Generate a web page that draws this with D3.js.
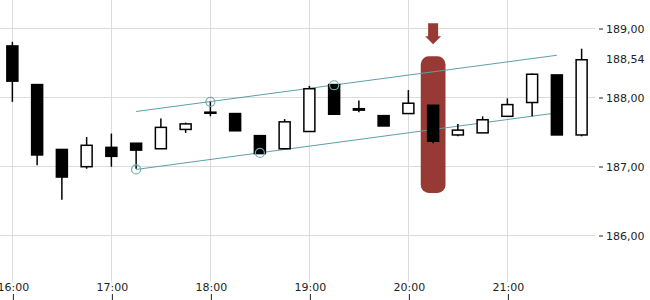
<!DOCTYPE html>
<html>
<head>
<meta charset="utf-8">
<script src="https://cdn.jsdelivr.net/npm/d3@7"></script>
<style>
  body { margin: 0; background: #fff; }
  text { font-family: "DejaVu Sans", sans-serif; font-size: 11px; fill: #222; }
</style>
</head>
<body>
<div id="chart"></div>
<script>
// 15 minute candles, 16:00 - 21:45
var times = ["16:00", "16:15", "16:30", "16:45", "17:00", "17:15", "17:30", "17:45",
             "18:00", "18:15", "18:30", "18:45", "19:00", "19:15", "19:30", "19:45",
             "20:00", "20:15", "20:30", "20:45", "21:00", "21:15", "21:30", "21:45"];
var open  = [188.74, 188.18, 187.24, 186.99, 187.27, 187.33, 187.25, 187.53,
             187.78, 187.76, 187.44, 187.25, 187.50, 188.18, 187.83, 187.73,
             187.76, 187.88, 187.45, 187.48, 187.72, 187.92, 188.32, 187.45];
var high  = [188.80, 188.19, 187.24, 187.42, 187.47, 187.33, 187.69, 187.63,
             187.93, 187.76, 187.44, 187.68, 188.16, 188.18, 187.95, 187.73,
             188.10, 187.88, 187.61, 187.72, 187.98, 188.34, 188.32, 188.70];
var low   = [187.93, 187.01, 186.51, 186.96, 186.99, 186.96, 187.25, 187.48,
             187.72, 187.51, 187.18, 187.25, 187.50, 187.75, 187.78, 187.58,
             187.76, 187.33, 187.43, 187.48, 187.72, 187.72, 187.45, 187.43];
var close = [188.23, 187.16, 186.84, 187.30, 187.14, 187.23, 187.56, 187.61,
             187.765, 187.51, 187.18, 187.64, 188.12, 187.75, 187.81, 187.58,
             187.91, 187.36, 187.52, 187.67, 187.89, 188.33, 187.45, 188.54];

var xTicks = ["16:00", "17:00", "18:00", "19:00", "20:00", "21:00"];
var yTicks = [186, 187, 188, 189];

// trend channel (start / end)
var channelTimes = ["17:15", "21:30"];
var upperLine = [187.79, 188.605];
var lowerLine = [186.95, 187.77];

// touch points on the channel
var anchorTimes  = ["17:15", "18:00", "18:30", "19:15"];
var anchorPrices = [186.95, 187.93, 187.19, 188.17];

// highlighted candle
var markTime = "20:15";
var markRange = [186.61, 188.59];

var width = 650, height = 300;
var parseT = d3.timeParse("%H:%M");

var x = d3.scaleTime()
    .domain([d3.timeParse("%H:%M:%S")("15:52:30"), d3.timeParse("%H:%M:%S")("21:52:30")])
    .range([0, 594]);
var y = d3.scaleLinear()
    .domain([186, 189])
    .range([235, 28]);

var locale = d3.formatLocale({ decimal: ",", thousands: ".", grouping: [3], currency: ["", "€"] });
var fmt = locale.format(".2f");

var svg = d3.select("#chart").append("svg")
    .attr("width", width)
    .attr("height", height);

// grid
svg.append("g").selectAll("line")
    .data(yTicks).enter().append("line")
    .attr("x1", 0).attr("x2", 595)
    .attr("y1", function(d) { return y(d) + 0.5; })
    .attr("y2", function(d) { return y(d) + 0.5; })
    .attr("stroke", "#dcdcdc");
svg.append("g").selectAll("line")
    .data(xTicks).enter().append("line")
    .attr("x1", function(d) { return Math.round(x(parseT(d))) + 0.5; })
    .attr("x2", function(d) { return Math.round(x(parseT(d))) + 0.5; })
    .attr("y1", 0).attr("y2", 282)
    .attr("stroke", "#dcdcdc");

// axes
var yAxis = svg.append("g")
    .attr("transform", "translate(599,0.5)")
    .call(d3.axisRight(y).tickValues(yTicks).tickSize(4).tickPadding(3).tickFormat(fmt));
yAxis.select(".domain").remove();
yAxis.selectAll("line").attr("stroke", "#222");

var xAxis = svg.append("g")
    .attr("transform", "translate(0.5,300)")
    .call(d3.axisTop(x).tickValues(xTicks.map(parseT)).tickSize(6).tickPadding(3)
        .tickFormat(d3.timeFormat("%H:%M")));
xAxis.select(".domain").remove();
xAxis.selectAll("line").attr("stroke", "#222");

// last price label
svg.append("text")
    .attr("x", 606)
    .attr("y", y(close[close.length - 1]))
    .attr("dy", "0.32em")
    .text(fmt(close[close.length - 1]));

// highlight bar + arrow
var mx = x(parseT(markTime));
var step = x(parseT("16:15")) - x(parseT("16:00"));
svg.append("rect")
    .attr("x", mx - step / 2)
    .attr("y", y(markRange[1]))
    .attr("width", step)
    .attr("height", y(markRange[0]) - y(markRange[1]))
    .attr("rx", 8)
    .attr("fill", "#983a34");
var tipY = y(markRange[1]) - 12;
svg.append("path")
    .attr("d", "M" + (mx - 5) + "," + (tipY - 21) + "H" + (mx + 5) + "V" + (tipY - 8) +
        "H" + (mx + 8) + "L" + mx + "," + tipY + "L" + (mx - 8) + "," + (tipY - 8) +
        "H" + (mx - 5) + "Z")
    .attr("fill", "#983a34");

// channel lines
var teal = "#5e9fa5";
[upperLine, lowerLine].forEach(function(l) {
    svg.append("line")
        .attr("x1", x(parseT(channelTimes[0])))
        .attr("y1", y(l[0]))
        .attr("x2", x(parseT(channelTimes[1])))
        .attr("y2", y(l[1]))
        .attr("stroke", teal)
        .attr("stroke-width", 1);
});

// candles
var candles = times.map(function(t, i) {
    return { t: parseT(t), o: open[i], h: high[i], l: low[i], c: close[i] };
});
var bodyW = 11;

var g = svg.append("g");
g.selectAll(".wick")
    .data(candles).enter().append("line")
    .attr("class", "wick")
    .attr("x1", function(d) { return x(d.t); })
    .attr("x2", function(d) { return x(d.t); })
    .attr("y1", function(d) { return y(d.h); })
    .attr("y2", function(d) { return y(d.l); })
    .attr("stroke", "#000")
    .attr("stroke-width", 1.5);

g.selectAll(".body")
    .data(candles).enter().append("rect")
    .attr("class", "body")
    .attr("x", function(d) { return x(d.t) - bodyW / 2; })
    .attr("y", function(d) { return y(Math.max(d.o, d.c)); })
    .attr("width", bodyW)
    .attr("height", function(d) { return Math.max(0.5, Math.abs(y(d.o) - y(d.c))); })
    .attr("fill", function(d) { return d.c >= d.o ? "#fff" : "#000"; })
    .attr("stroke", "#000")
    .attr("stroke-width", 1.5);

// anchor circles
svg.append("g").selectAll("circle")
    .data(anchorTimes).enter().append("circle")
    .attr("cx", function(d) { return x(parseT(d)); })
    .attr("cy", function(d, i) { return y(anchorPrices[i]); })
    .attr("r", 4.5)
    .attr("fill", "none")
    .attr("stroke", "#6fabb0")
    .attr("stroke-width", 1.2);
</script>
</body>
</html>
